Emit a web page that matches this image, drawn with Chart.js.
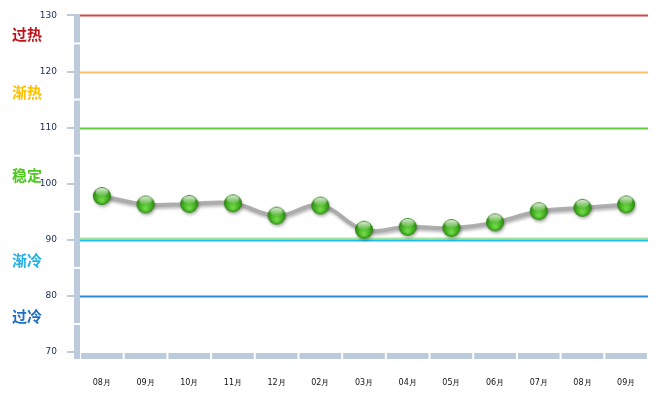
<!DOCTYPE html>
<html>
<head>
<meta charset="utf-8">
<script src="https://cdn.jsdelivr.net/npm/chart.js@4/dist/chart.umd.min.js"></script>
<style>
body { margin: 0; background: #fff; }
</style>
</head>
<body>
<canvas id="myChart" width="664" height="395"></canvas>
<script>
// data
const months = ["08月", "09月", "10月", "11月", "12月", "02月", "03月", "04月", "05月", "06月", "07月", "08月", "09月"];
const temps = [97.8, 96.3, 96.4, 96.5, 94.3, 96.1, 91.8, 92.3, 92.1, 93.1, 95.1, 95.7, 96.3];
const yTicks = [70, 80, 90, 100, 110, 120, 130];
// zone lines
const zoneValues = [130, 120, 110, 90, 80];
const zoneColors = ["#d04848", "#f7c26b", "#62cc3c", "#1cc0ee", "#2a8ad8"];
// zone names on the left
const zoneNames = ["过热", "渐热", "稳定", "渐冷", "过冷"];
const zoneNameAt = [126.6, 116.3, 101.5, 86.4, 76.4];
const zoneNameColors = ["#c0141c", "#ffc000", "#4ec81e", "#1eb0e6", "#1f6fc0"];

// sphere marker
function makeBall(r) {
	const c = document.createElement("canvas");
	c.width = r * 2 + 2;
	c.height = r * 2 + 2;
	const g = c.getContext("2d");
	const cx = r + 1, cy = r + 1;
	let grad = g.createRadialGradient(cx, cy + r * 0.5, r * 0.1, cx, cy, r);
	grad.addColorStop(0, "#70d848");
	grad.addColorStop(0.7, "#3ca61c");
	grad.addColorStop(1, "#2a7c10");
	g.fillStyle = grad;
	g.beginPath();
	g.arc(cx, cy, r, 0, Math.PI * 2);
	g.fill();
	let hl = g.createLinearGradient(0, cy - r, 0, cy);
	hl.addColorStop(0, "rgba(255,255,255,0.95)");
	hl.addColorStop(1, "rgba(255,255,255,0.05)");
	g.fillStyle = hl;
	g.beginPath();
	g.ellipse(cx, cy - r * 0.45, r * 0.72, r * 0.45, 0, 0, Math.PI * 2);
	g.fill();
	return c;
}
const ball = makeBall(9);

const barColor = "#bccbdc";

const decorPlugin = {
	id: "decor",
	beforeDatasetsDraw(chart) {
		const ctx = chart.ctx;
		const y = chart.scales.y;
		const x = chart.scales.x;
		const a = chart.chartArea;
		ctx.save();
		ctx.fillStyle = barColor;
		// vertical axis bar, split half way between ticks
		for (let i = 0; i < yTicks.length; i++) {
			const v = yTicks[i];
			const top = y.getPixelForValue(Math.min(v + 5, 130));
			const bot = y.getPixelForValue(Math.max(v - 5, 70));
			ctx.fillRect(a.left - 6, top + (v === 130 ? 0 : 1), 6, bot - top - (v === 130 ? 1 : 2));
		}
		ctx.fillRect(a.left - 6, a.bottom + 1, 6, 6);
		// bottom bar, split at each category
		const w = (a.right - a.left) / months.length;
		for (let i = 0; i < months.length; i++) {
			const cx = x.getPixelForValue(i);
			ctx.fillRect(cx - w / 2 + 1, a.bottom + 1, w - 2, 6);
		}
		// zone lines
		for (let i = 0; i < zoneValues.length; i++) {
			const py = Math.round(y.getPixelForValue(zoneValues[i])) + 0.5;
			if (zoneValues[i] === 90) {
				ctx.strokeStyle = "#a8e69a";
				ctx.lineWidth = 2;
				ctx.beginPath();
				ctx.moveTo(a.left, py - 2);
				ctx.lineTo(a.right, py - 2);
				ctx.stroke();
			}
			ctx.strokeStyle = zoneColors[i];
			ctx.lineWidth = 2;
			ctx.beginPath();
			ctx.moveTo(a.left, py);
			ctx.lineTo(a.right, py);
			ctx.stroke();
		}
		// zone names
		ctx.font = "bold 15px 'Noto Sans CJK SC'";
		ctx.textAlign = "left";
		ctx.textBaseline = "middle";
		for (let i = 0; i < zoneNames.length; i++) {
			ctx.fillStyle = zoneNameColors[i];
			ctx.fillText(zoneNames[i], 12, y.getPixelForValue(zoneNameAt[i]));
		}
		ctx.restore();
	},
	beforeDatasetDraw(chart) {
		const ctx = chart.ctx;
		ctx.save();
		ctx.shadowColor = "rgba(0,0,0,0.3)";
		ctx.shadowBlur = 3;
		ctx.shadowOffsetX = 1;
		ctx.shadowOffsetY = 2;
	},
	afterDatasetDraw(chart) {
		chart.ctx.restore();
	}
};

const ctx1 = document.getElementById("myChart").getContext("2d");
let myChart = new Chart(ctx1, {
	type: "line",
	data: {
		labels: months,
		datasets: [
			{
				data: temps,
				borderColor: "rgba(170,170,170,0.95)",
				borderWidth: 4,
				tension: 0.4,
				pointStyle: ball,
				pointRadius: 9,
				pointHoverRadius: 9,
			}
		],
	},
	options: {
		responsive: false,
		animation: false,
		devicePixelRatio: 1,
		layout: {
			padding: { top: 15, right: 16, left: 0, bottom: 0 }
		},
		scales: {
			y: {
				min: 70,
				max: 130,
				afterFit: (s) => { s.width = 80; },
				border: { display: false },
				grid: {
					drawOnChartArea: false,
					tickLength: 13,
					color: barColor,
					lineWidth: 2,
				},
				ticks: {
					stepSize: 10,
					padding: 10,
					color: "#1a2a55",
					font: { size: 9, family: "DejaVu Sans" },
				}
			},
			x: {
				offset: true,
				afterFit: (s) => { s.height = 43; },
				border: { display: false },
				grid: { display: false },
				ticks: {
					autoSkip: false,
					padding: 18,
					color: "#111",
					maxRotation: 0,
					font: { size: 8, family: "DejaVu Sans" },
				}
			}
		},
		plugins: {
			legend: { display: false },
			tooltip: { enabled: false }
		}
	},
	plugins: [decorPlugin]
});
</script>
</body>
</html>
